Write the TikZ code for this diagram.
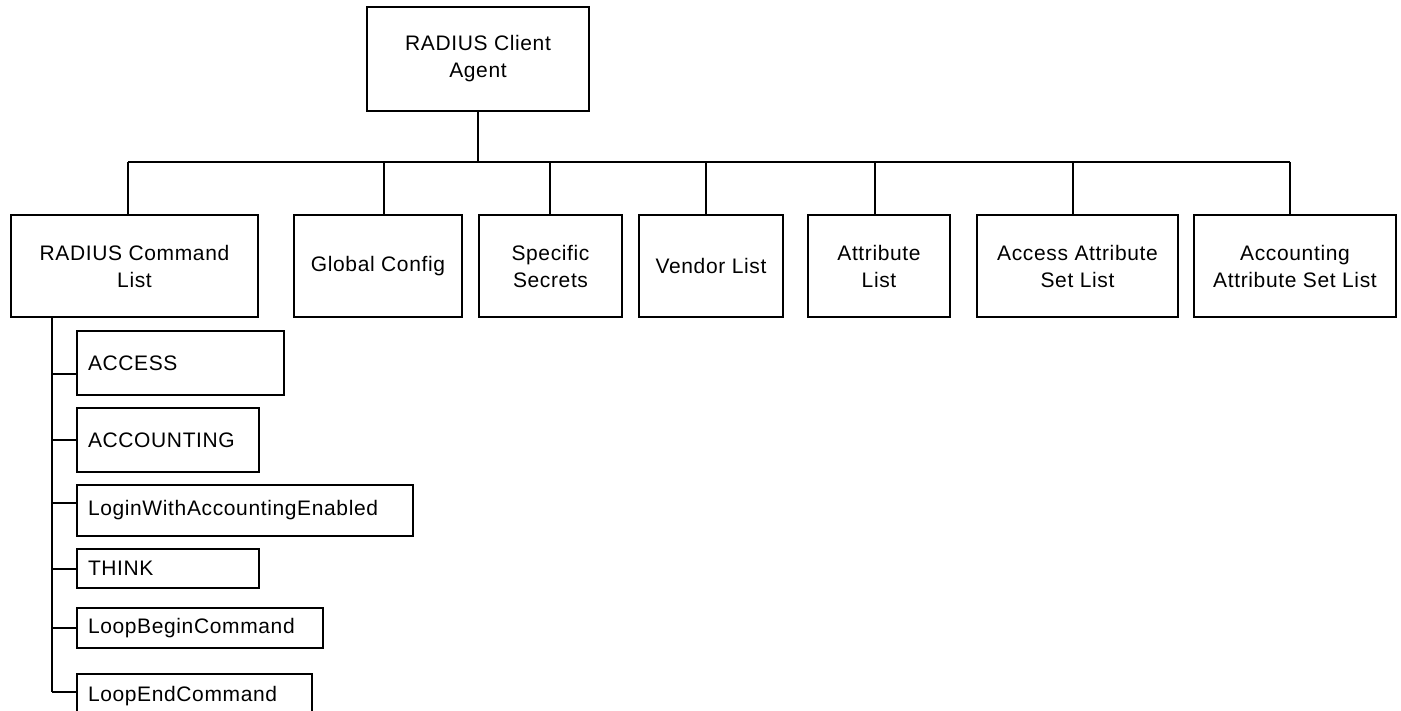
\documentclass[tikz,border=0pt]{standalone}
\usepackage{fontspec}
\setmainfont{Liberation Sans}[LetterSpace=3]
\begin{document}
\begin{tikzpicture}[x=1pt,y=-1pt,
  lw/.style={line width=2pt},
  box/.style={draw, lw, inner sep=0pt, align=center, font=\fontsize{21}{27}\selectfont},
  leaf/.style={draw, lw, inner xsep=11pt, inner ysep=0pt, align=left, font=\fontsize{21}{27}\selectfont},
  conn/.style={lw}]
\useasboundingbox[fill=white] (0,0) rectangle (1401,711);
\clip (0,0) rectangle (1401,711);
% root
\node[box, minimum width=222pt, minimum height=104pt] (agent) at (478,59) {RADIUS Client\\Agent};
% second row
\node[box, minimum width=247pt, minimum height=102pt] (rcl) at (134.5,266) {RADIUS Command\\List};
\node[box, minimum width=168pt, minimum height=102pt] (gc) at (378,266) {Global Config};
\node[box, minimum width=143pt, minimum height=102pt] (ss) at (550.5,266) {Specific\\Secrets};
\node[box, minimum width=144pt, minimum height=102pt] (vl) at (711,266) {Vendor List};
\node[box, minimum width=142pt, minimum height=102pt] (al) at (879,266) {Attribute\\List};
\node[box, minimum width=201pt, minimum height=102pt] (aasl) at (1077.5,266) {Access Attribute\\Set List};
\node[box, minimum width=202pt, minimum height=102pt] (acasl) at (1295,266) {Accounting\\Attribute Set List};
% command list children
\node[leaf, minimum height=64pt, text width=185pt] (access) at (180.5,363) {ACCESS};
\node[leaf, minimum height=64pt, text width=160pt] (accounting) at (168,440) {ACCOUNTING};
\node[leaf, minimum height=51pt, text width=314pt] (login) at (245,510.5) {LoginWithAccountingEnabled};
\node[leaf, minimum height=39pt, text width=160pt] (think) at (168,568.5) {THINK};
\node[leaf, minimum height=40pt, text width=224pt] (loopbegin) at (200,628) {LoopBeginCommand};
\node[leaf, minimum height=44pt, text width=213pt] (loopend) at (194.5,696) {LoopEndCommand};
% top bus
\coordinate (bus) at (478,162);
\coordinate (d1) at (128,162);
\coordinate (d2) at (384,162);
\coordinate (d3) at (550,162);
\coordinate (d4) at (706,162);
\coordinate (d5) at (875,162);
\coordinate (d6) at (1073,162);
\coordinate (d7) at (1290,162);
\draw[conn] (agent.south) -- (bus);
\draw[conn] (d1) -- (d7);
\draw[conn] (d1) -- (d1 |- rcl.north);
\draw[conn] (d2) -- (d2 |- gc.north);
\draw[conn] (d3) -- (d3 |- ss.north);
\draw[conn] (d4) -- (d4 |- vl.north);
\draw[conn] (d5) -- (d5 |- al.north);
\draw[conn] (d6) -- (d6 |- aasl.north);
\draw[conn] (d7) -- (d7 |- acasl.north);
% trunk
\coordinate (t0) at (52,317);
\coordinate (b1) at (52,374);
\coordinate (b2) at (52,440);
\coordinate (b3) at (52,503);
\coordinate (b4) at (52,569);
\coordinate (b5) at (52,628);
\coordinate (b6) at (52,692);
\draw[conn] (t0) -- (b6);
\draw[conn] (b1) -- (b1 -| access.west);
\draw[conn] (b2) -- (b2 -| accounting.west);
\draw[conn] (b3) -- (b3 -| login.west);
\draw[conn] (b4) -- (b4 -| think.west);
\draw[conn] (b5) -- (b5 -| loopbegin.west);
\draw[conn] (b6) -- (b6 -| loopend.west);
\end{tikzpicture}
\end{document}
